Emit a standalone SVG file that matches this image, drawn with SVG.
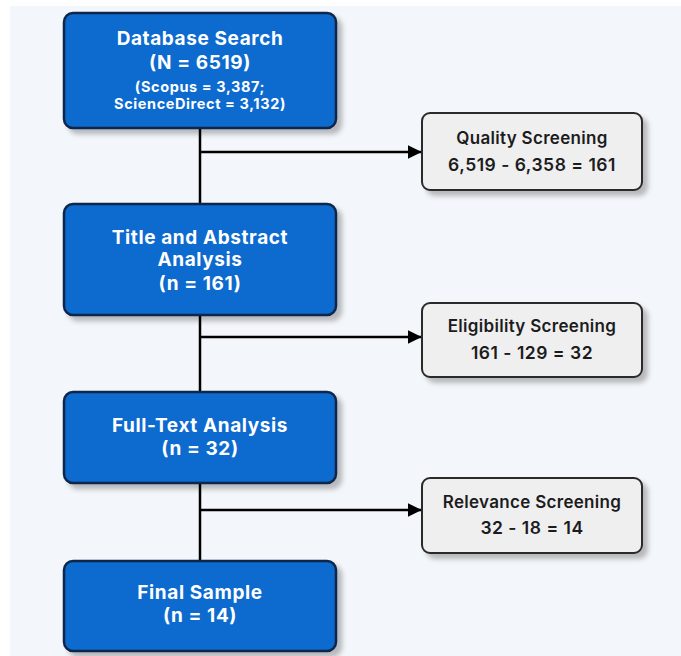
<svg xmlns="http://www.w3.org/2000/svg" width="681" height="656" viewBox="0 0 681 656">
<defs>
<style>
.bg{fill:#f3f6fa}
.main rect{fill:#0b6bcf;stroke:#0f2748;stroke-width:2.5}
.side rect{fill:#efeff0;stroke:#2b2b2b;stroke-width:2}
.main text{fill:#ffffff;font-family:Inter,"Liberation Sans",Arial,sans-serif;font-weight:700;text-anchor:middle}
.side text{fill:#1c1c1c;font-family:Inter,"Liberation Sans",Arial,sans-serif;font-weight:600;text-anchor:middle}
.t1{font-size:19px;letter-spacing:0.6px}
.t2{font-size:14.5px;letter-spacing:0.6px}
.s1{font-size:17px;letter-spacing:0.3px}
.s2{font-size:17.5px;letter-spacing:0.5px}
.conn line{stroke:#000;stroke-width:2.5}
</style>
<filter id="sh" x="-10%" y="-10%" width="130%" height="140%">
<feDropShadow dx="5" dy="5" stdDeviation="2.5" flood-color="#000" flood-opacity="0.25"/>
</filter>
<marker id="arr" viewBox="0 0 10 10" refX="9.5" refY="5" markerWidth="14" markerHeight="14" markerUnits="userSpaceOnUse" orient="auto">
<path d="M0,0 L10,5 L0,10 z" fill="#000"/>
</marker>
</defs>
<rect x="0" y="0" width="681" height="656" fill="#ffffff"/>
<rect class="bg" x="10" y="6" width="671" height="650"/>
<g id="connectors" class="conn">
<line x1="200" y1="128" x2="200" y2="205"/>
<line x1="200" y1="315" x2="200" y2="392"/>
<line x1="200" y1="483" x2="200" y2="561"/>
<line x1="200" y1="152" x2="421" y2="152" marker-end="url(#arr)"/>
<line x1="200" y1="337" x2="421" y2="337" marker-end="url(#arr)"/>
<line x1="200" y1="510" x2="421" y2="510" marker-end="url(#arr)"/>
</g>
<g id="database-search" class="main">
<rect x="64" y="13" width="272" height="115" rx="9" filter="url(#sh)"/>
<text class="t1" x="200" y="45">Database Search</text>
<text class="t1" x="200" y="69">(N = 6519)</text>
<text class="t2" x="200" y="91.5">(Scopus = 3,387;</text>
<text class="t2" x="200" y="109">ScienceDirect = 3,132)</text>
</g>
<g id="quality-screening" class="side">
<rect x="422" y="113" width="220" height="77" rx="8" filter="url(#sh)"/>
<text class="s1" x="532" y="144">Quality Screening</text>
<text class="s2" x="532" y="171">6,519 - 6,358 = 161</text>
</g>
<g id="title-abstract" class="main">
<rect x="64" y="204" width="272" height="111" rx="9" filter="url(#sh)"/>
<text class="t1" x="200" y="244">Title and Abstract</text>
<text class="t1" x="200" y="266">Analysis</text>
<text class="t1" x="200" y="290">(n = 161)</text>
</g>
<g id="eligibility-screening" class="side">
<rect x="422" y="303" width="220" height="74" rx="8" filter="url(#sh)"/>
<text class="s1" x="532" y="332">Eligibility Screening</text>
<text class="s2" x="532" y="359">161 - 129 = 32</text>
</g>
<g id="full-text" class="main">
<rect x="64" y="392" width="272" height="91" rx="9" filter="url(#sh)"/>
<text class="t1" x="200" y="432">Full-Text Analysis</text>
<text class="t1" x="200" y="455">(n = 32)</text>
</g>
<g id="relevance-screening" class="side">
<rect x="422" y="478" width="220" height="75" rx="8" filter="url(#sh)"/>
<text class="s1" x="532" y="508">Relevance Screening</text>
<text class="s2" x="532" y="534">32 - 18 = 14</text>
</g>
<g id="final-sample" class="main">
<rect x="64" y="561" width="272" height="90" rx="9" filter="url(#sh)"/>
<text class="t1" x="200" y="599">Final Sample</text>
<text class="t1" x="200" y="622">(n = 14)</text>
</g>
</svg>
